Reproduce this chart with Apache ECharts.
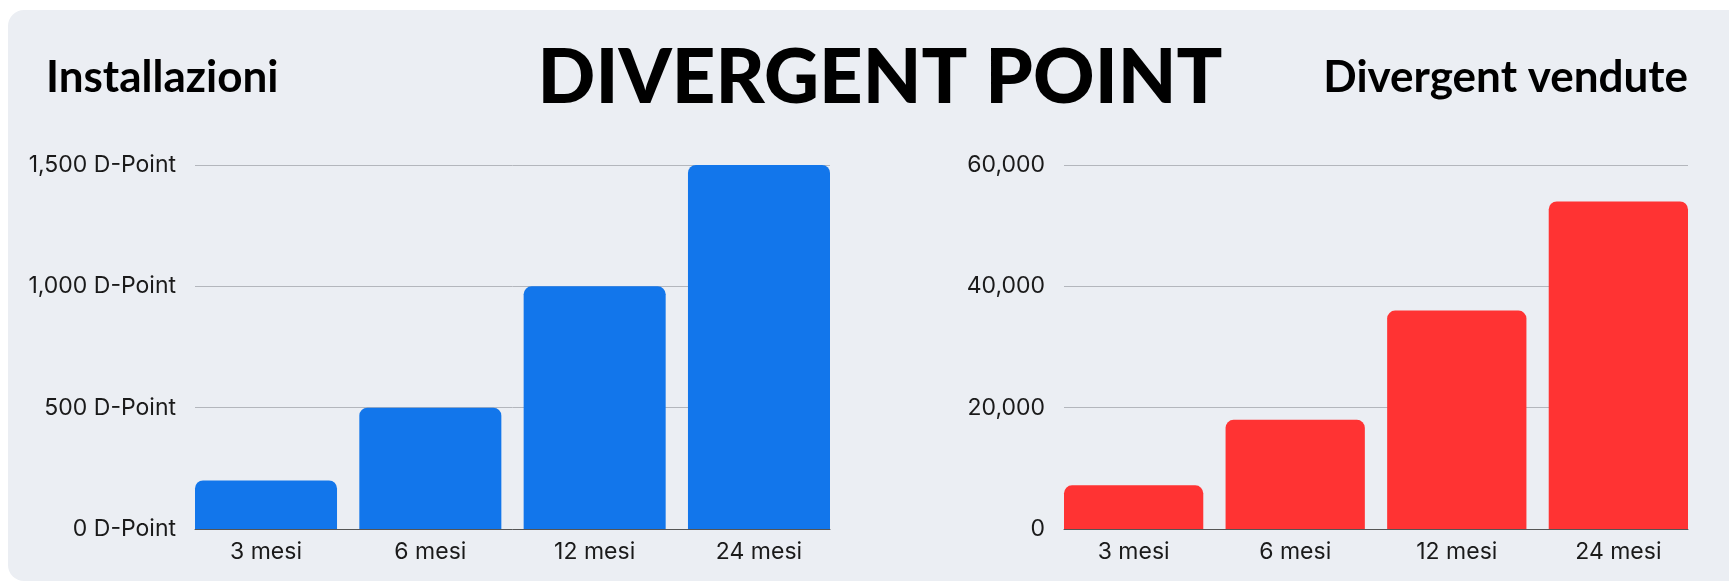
<!DOCTYPE html>
<html>
<head>
<meta charset="utf-8">
<script src="https://cdn.jsdelivr.net/npm/echarts@6/dist/echarts.min.js"></script>
<style>
html,body{margin:0;padding:0;background:#ffffff;}
#chart{width:1729px;height:581px;}
</style>
</head>
<body>
<div id="chart"></div>
<script>
// ---- data ----
const categories = ['3 mesi', '6 mesi', '12 mesi', '24 mesi'];
const installazioni = [200, 500, 1000, 1500];
const vendute = [7200, 18000, 36000, 54000];
const leftTicks = [0, 500, 1000, 1500];
const rightTicks = [0, 20000, 40000, 60000];
const mainTitle = 'DIVERGENT POINT';
const leftTitle = 'Installazioni';
const rightTitle = 'Divergent vendute';

const chart = echarts.init(document.getElementById('chart'));
const fmt = v => v.toLocaleString('en-US');
const labelFont = 'Inter, "Noto Sans", sans-serif';

const TOP = 165, H = 364;
// left
const L0 = 195, LW = 635, LGAP = 22.3;
const LBW = (LW - 3 * LGAP) / 4;
// right
const R0 = 1064, RW = 624, RGAP = 22.3;
const RBW = (RW - 3 * RGAP) / 4;

const option = {
  backgroundColor: '#ffffff',
  animation: false,
  graphic: [
    { type: 'rect', z: -10, shape: { x: 8, y: 10, width: 1760, height: 571, r: 16 }, style: { fill: '#EBEEF3' } },
    { type: 'text', x: 880, y: 40, style: { text: mainTitle, font: '900 76px Lato, sans-serif', fill: '#000', textAlign: 'center' } },
    { type: 'text', left: 46, top: 56, style: { text: leftTitle, font: 'bold 44px Lato, sans-serif', fill: '#000' } },
    { type: 'text', right: 41, top: 56, style: { text: rightTitle, font: 'bold 44px Lato, sans-serif', fill: '#000' } }
  ],
  grid: [
    { left: L0, top: TOP, width: LW, height: H },
    { left: L0 - LGAP / 2, top: TOP, width: LW + LGAP, height: H },
    { left: R0, top: TOP, width: RW, height: H },
    { left: R0 - RGAP / 2, top: TOP, width: RW + RGAP, height: H }
  ],
  xAxis: [
    { type: 'category', gridIndex: 0, data: categories, axisLine: { show: true, lineStyle: { color: '#555', width: 1 } }, axisTick: { show: false }, axisLabel: { show: false } },
    { type: 'category', gridIndex: 1, data: categories, axisLine: { show: false }, axisTick: { show: false },
      axisLabel: { margin: 12, fontSize: 23, fontFamily: labelFont, color: '#1a1a1a' } },
    { type: 'category', gridIndex: 2, data: categories, axisLine: { show: true, lineStyle: { color: '#555', width: 1 } }, axisTick: { show: false }, axisLabel: { show: false } },
    { type: 'category', gridIndex: 3, data: categories, axisLine: { show: false }, axisTick: { show: false },
      axisLabel: { margin: 12, fontSize: 23, fontFamily: labelFont, color: '#1a1a1a' } }
  ],
  yAxis: [
    { type: 'value', gridIndex: 0, min: leftTicks[0], max: leftTicks[leftTicks.length - 1], interval: leftTicks[1] - leftTicks[0],
      axisLine: { show: false }, axisTick: { show: false },
      axisLabel: { margin: 19, fontSize: 23, fontFamily: labelFont, color: '#1a1a1a', formatter: v => fmt(v) + ' D-Point' },
      splitLine: { lineStyle: { color: '#B3B6BC', width: 1 } } },
    { type: 'value', gridIndex: 1, min: leftTicks[0], max: leftTicks[leftTicks.length - 1], show: false, splitLine: { show: false } },
    { type: 'value', gridIndex: 2, min: rightTicks[0], max: rightTicks[rightTicks.length - 1], interval: rightTicks[1] - rightTicks[0],
      axisLine: { show: false }, axisTick: { show: false },
      axisLabel: { margin: 19, fontSize: 23, fontFamily: labelFont, color: '#1a1a1a', formatter: v => fmt(v) },
      splitLine: { lineStyle: { color: '#B3B6BC', width: 1 } } },
    { type: 'value', gridIndex: 3, min: rightTicks[0], max: rightTicks[rightTicks.length - 1], show: false, splitLine: { show: false } }
  ],
  series: [
    { type: 'bar', xAxisIndex: 1, yAxisIndex: 1, data: installazioni, barWidth: LBW,
      itemStyle: { color: '#1276EB', borderRadius: [8, 8, 0, 0] }, z: 3 },
    { type: 'bar', xAxisIndex: 3, yAxisIndex: 3, data: vendute, barWidth: RBW,
      itemStyle: { color: '#FF3333', borderRadius: [8, 8, 0, 0] }, z: 3 }
  ]
};
chart.setOption(option);
</script>
</body>
</html>
